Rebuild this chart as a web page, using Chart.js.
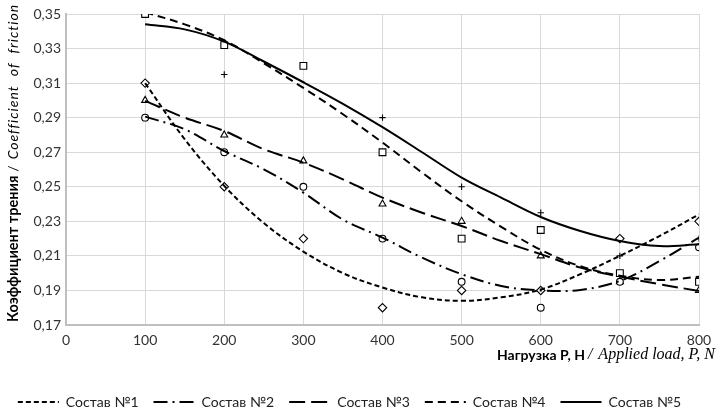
<!DOCTYPE html>
<html>
<head>
<meta charset="utf-8">
<script src="https://cdn.jsdelivr.net/npm/chart.js@4.4.1/dist/chart.umd.min.js"></script>
<style>
  html, body { margin: 0; padding: 0; background: #fff; }
  #wrap { width: 720px; height: 408px; }
</style>
</head>
<body>
<div id="wrap"><canvas id="friction"></canvas></div>
<script>
// нагрузка, Н (точки измерений)
const loads = [100, 200, 300, 400, 500, 600, 700, 800];

// измеренные точки (маркеры)
const pts1 = [0.31, 0.25, 0.22, 0.18, 0.19, 0.19, 0.22, 0.23];
const pts2 = [0.29, 0.27, 0.25, 0.22, 0.195, 0.18, 0.195, 0.215];
const pts3 = [0.30, 0.28, 0.265, 0.24, 0.23, 0.21, 0.195, 0.19];
const pts4 = [0.35, 0.332, 0.32, 0.27, 0.22, 0.225, 0.20, 0.195];
const pts5 = [0.35, 0.315, 0.32, 0.29, 0.25, 0.235, 0.21, 0.22];

const trendLoads = [100, 150, 200, 250, 300, 350, 400, 450, 500, 550, 600, 650, 700, 750, 800];
const trend1 = [0.310, 0.2775, 0.2505, 0.229, 0.2125, 0.200, 0.1917, 0.186, 0.184, 0.186, 0.1905, 0.1994, 0.210, 0.2215, 0.234];
const trend2 = [0.2906, 0.2833, 0.2707, 0.2601, 0.2466, 0.231, 0.2206, 0.209, 0.1994, 0.1926, 0.190, 0.1903, 0.1955, 0.207, 0.2206];
const trend3 = [0.2997, 0.290, 0.2823, 0.2717, 0.264, 0.2543, 0.2437, 0.235, 0.2273, 0.2186, 0.211, 0.2032, 0.198, 0.1936, 0.1897];
const trend4 = [0.351, 0.344, 0.3348, 0.3215, 0.3072, 0.292, 0.2756, 0.2582, 0.2416, 0.2268, 0.2135, 0.204, 0.1985, 0.196, 0.198];
const trend5 = [0.344, 0.3411, 0.334, 0.3225, 0.3105, 0.298, 0.2845, 0.270, 0.2553, 0.2437, 0.2325, 0.2244, 0.2186, 0.2157, 0.2167];

const names = ["Состав №1", "Состав №2", "Состав №3", "Состав №4", "Состав №5"];
const xTicks = { min: 0, max: 800, step: 100 };
const yTicks = { min: 0.17, max: 0.35, step: 0.02 };

const FONT = 'Lato, "Open Sans", sans-serif';

const toXY = (xs, arr) => arr.map((v, i) => ({ x: xs[i], y: v }));

const trends = [trend1, trend2, trend3, trend4, trend5];
const points = [pts1, pts2, pts3, pts4, pts5];
const dashes = [[5, 3], [14, 5, 2, 5], [16, 6], [8, 5], []];
const markers = [
    { style: "rectRot", r: 4.2 },
    { style: "circle", r: 3.4 },
    { style: "triangle", r: 4 },
    { style: "rect", r: 4.8 },
    { style: "cross", r: 3.2 }
];

const datasets = [];
trends.forEach((t, i) => {
    datasets.push({
        label: names[i],
        data: toXY(trendLoads, t),
        showLine: true,
        borderColor: "#000",
        borderWidth: 2,
        borderDash: dashes[i],
        tension: 0.35,
        pointRadius: 0,
        pointStyle: "line",
        isTrend: true
    });
});
points.forEach((p, i) => {
    datasets.push({
        label: names[i] + " (точки)",
        data: toXY(loads, p),
        showLine: false,
        pointStyle: markers[i].style,
        pointRadius: markers[i].r,
        pointBackgroundColor: "#fff",
        pointBorderColor: "#000",
        pointBorderWidth: 1.1,
        isTrend: false
    });
});

// подписи осей (смешанные шрифты)
const axisTitles = {
    id: "axisTitles",
    afterDraw(chart) {
        const ctx = chart.ctx;
        ctx.save();
        ctx.fillStyle = "#000";
        ctx.textBaseline = "middle";
        ctx.textAlign = "left";

        // ось X
        let x = 497;
        const y = 355;
        ctx.font = "bold 14px " + FONT;
        ctx.fillText("Нагрузка P, H", x, y);
        x += ctx.measureText("Нагрузка P, H").width + 3;
        ctx.font = 'italic 16px "Liberation Serif", serif';
        ctx.fillText("/", x, y);
        x += ctx.measureText("/").width + 6;
        ctx.fillText("Applied load, P, N", x, y);

        // ось Y
        ctx.translate(13, 322);
        ctx.rotate(-Math.PI / 2);
        let s = 0;
        ctx.font = "bold 14.5px " + FONT;
        ctx.fillText("Коэффициент трения", s, 0);
        s += ctx.measureText("Коэффициент трения").width + 4;
        ctx.font = "14px " + FONT;
        ctx.fillText("/", s, 0);
        s += ctx.measureText("/").width + 6;
        ctx.font = "italic 14px " + FONT;
        ctx.letterSpacing = "1px";
        const words = ["Coefficient", "of", "friction"];
        words.forEach(w => {
            ctx.fillText(w, s, 0);
            s += ctx.measureText(w).width + 9;
        });
        ctx.restore();
    }
};

const baseLabels = Chart.defaults.plugins.legend.labels.generateLabels;

new Chart(document.getElementById("friction"), {
    type: "scatter",
    data: { datasets },
    plugins: [axisTitles],
    options: {
        responsive: true,
        maintainAspectRatio: false,
        animation: false,
        layout: { padding: { top: 14, right: 21, bottom: -11, left: 0 } },
        plugins: {
            tooltip: { enabled: false },
            legend: {
                position: "bottom",
                labels: {
                    generateLabels: chart => baseLabels(chart).map(item => {
                        const ds = chart.data.datasets[item.datasetIndex];
                        item.lineDash = ds.borderDash || [];
                        item.lineWidth = 2;
                        item.strokeStyle = "#000";
                        return item;
                    }),
                    filter: (item, data) => data.datasets[item.datasetIndex].isTrend,
                    usePointStyle: true,
                    pointStyleWidth: 41,
                    padding: 15,
                    color: "#222",
                    font: { family: FONT, size: 14 }
                }
            }
        },
        scales: {
            x: {
                type: "linear",
                min: xTicks.min,
                max: xTicks.max,
                afterFit: s => { s.height = 55; },
                ticks: {
                    stepSize: xTicks.step,
                    padding: 7,
                    color: "#333",
                    font: { family: FONT, size: 14 }
                },
                grid: { color: "#d9d9d9", drawTicks: false },
                border: { color: "#bfbfbf", width: 2 }
            },
            y: {
                min: yTicks.min,
                max: yTicks.max,
                afterFit: s => { s.width = 66; },
                ticks: {
                    stepSize: yTicks.step,
                    padding: 5,
                    color: "#333",
                    font: { family: FONT, size: 14 },
                    callback: v => v.toFixed(2).replace(".", ",")
                },
                grid: { color: "#d9d9d9", drawTicks: false },
                border: { color: "#bfbfbf", width: 2 }
            }
        }
    }
});
</script>
</body>
</html>
